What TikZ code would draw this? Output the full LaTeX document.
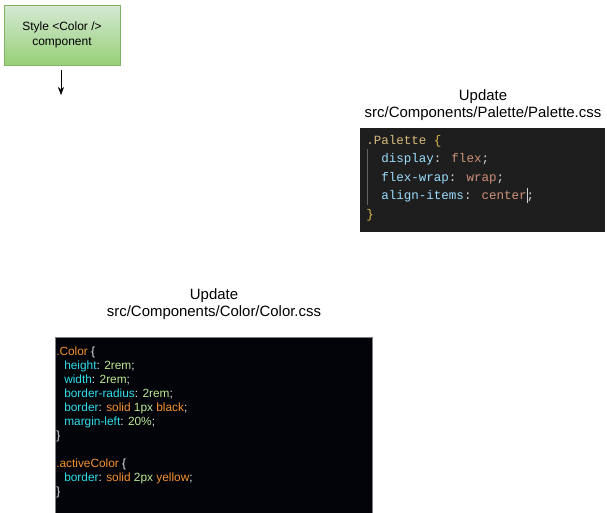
\documentclass[tikz,border=0pt]{standalone}
\usepackage{fontspec}
\setmainfont{Liberation Sans}
\newfontfamily\codemono{Liberation Mono}
\usetikzlibrary{arrows.meta}
\definecolor{gfill1}{HTML}{D5E8D4}
\definecolor{gfill2}{HTML}{97D077}
\definecolor{gline}{HTML}{82B366}
\definecolor{vsbg}{HTML}{1E1E1E}
\definecolor{vssel}{HTML}{D7BA7D}
\definecolor{vsbrace}{HTML}{E0B84A}
\definecolor{vsprop}{HTML}{9CDCFE}
\definecolor{vsval}{HTML}{CE9178}
\definecolor{vspunct}{HTML}{D4D4D4}
\definecolor{cbg}{HTML}{02040A}
\definecolor{cborder}{HTML}{808080}
\definecolor{corange}{HTML}{F5902E}
\definecolor{ccyan}{HTML}{30DDE8}
\definecolor{cgreen}{HTML}{BCE894}
\definecolor{cwhite}{HTML}{E8E8E8}
\begin{document}
\begin{tikzpicture}[x=0.75pt,y=-0.75pt,
  greenbox/.style={draw=gline,top color=gfill1,bottom color=gfill2,minimum width=116*0.75pt,minimum height=60*0.75pt,inner sep=0pt,align=center,font=\fontsize{9pt}{11.5pt}\selectfont},
  caption/.style={align=center,font=\fontsize{11.2pt}{12.75pt}\selectfont},
  vsline/.style={anchor=base west,inner sep=0pt,font=\codemono\fontsize{9.4pt}{11pt}\selectfont},
  cline/.style={anchor=base west,inner sep=0pt,font=\fontsize{8.9pt}{10pt}\selectfont}]
\useasboundingbox (0,0) rectangle (607,512);
% green box and arrow
\node[greenbox] (style) at (62,35) {Style <Color />\\component};
\coordinate (arrA) at (61,70);
\coordinate (arrB) at (61,95);
\draw[-{Stealth[length=6pt,width=4.5pt]}] (arrA) -- (arrB);
% palette
\node[caption] (palcap) at (483,105) {Update\\src/Components/Palette/Palette.css};
\fill[vsbg] (360,128) rectangle (605,232);
\coordinate (guideA) at (367.5,149);
\coordinate (guideB) at (367.5,205);
\draw[draw=white!30!vsbg,line width=0.75pt] (guideA) -- (guideB);
\node[vsline] (p1) at (366,144) {\textcolor{vssel}{.Palette} \textcolor{vsbrace}{\{}};
\node[vsline] (p2) at (381,162.5) {\textcolor{vsprop}{display}\textcolor{vspunct}{:} \textcolor{vsval}{flex}\textcolor{vspunct}{;}};
\node[vsline] (p3) at (381,181) {\textcolor{vsprop}{flex-wrap}\textcolor{vspunct}{:} \textcolor{vsval}{wrap}\textcolor{vspunct}{;}};
\node[vsline] (p4) at (381,199.5) {\textcolor{vsprop}{align-items}\textcolor{vspunct}{:} \textcolor{vsval}{center}\textcolor{vspunct}{;}};
\node[vsline] (p5) at (366,218) {\textcolor{vsbrace}{\}}};
\coordinate (curA) at (527.5,188);
\coordinate (curB) at (527.5,203);
\draw[draw=vspunct,line width=0.9pt] (curA) -- (curB);
% color
\node[caption] (colcap) at (214,304) {Update\\src/Components/Color/Color.css};
\filldraw[fill=cbg,draw=cborder,line width=0.75pt] (55.5,337.5) rectangle (372.5,513);
\node[cline] (c1) at (56,355) {\textcolor{corange}{.Color} \textcolor{cwhite}{\{}};
\node[cline] (c2) at (64,369) {\textcolor{ccyan}{height}\textcolor{cwhite}{:} \textcolor{cgreen}{2rem}\textcolor{cwhite}{;}};
\node[cline] (c3) at (64,383) {\textcolor{ccyan}{width}\textcolor{cwhite}{:} \textcolor{cgreen}{2rem}\textcolor{cwhite}{;}};
\node[cline] (c4) at (64,397) {\textcolor{ccyan}{border-radius}\textcolor{cwhite}{:} \textcolor{cgreen}{2rem}\textcolor{cwhite}{;}};
\node[cline] (c5) at (64,411) {\textcolor{ccyan}{border}\textcolor{cwhite}{:} \textcolor{corange}{solid} \textcolor{cgreen}{1px} \textcolor{corange}{black}\textcolor{cwhite}{;}};
\node[cline] (c6) at (64,425) {\textcolor{ccyan}{margin-left}\textcolor{cwhite}{:} \textcolor{cgreen}{20\%}\textcolor{cwhite}{;}};
\node[cline] (c7) at (56,439) {\textcolor{cwhite}{\}}};
\node[cline] (c8) at (56,467) {\textcolor{corange}{.activeColor} \textcolor{cwhite}{\{}};
\node[cline] (c9) at (64,481) {\textcolor{ccyan}{border}\textcolor{cwhite}{:} \textcolor{corange}{solid} \textcolor{cgreen}{2px} \textcolor{corange}{yellow}\textcolor{cwhite}{;}};
\node[cline] (c10) at (56,495) {\textcolor{cwhite}{\}}};
\end{tikzpicture}
\end{document}
